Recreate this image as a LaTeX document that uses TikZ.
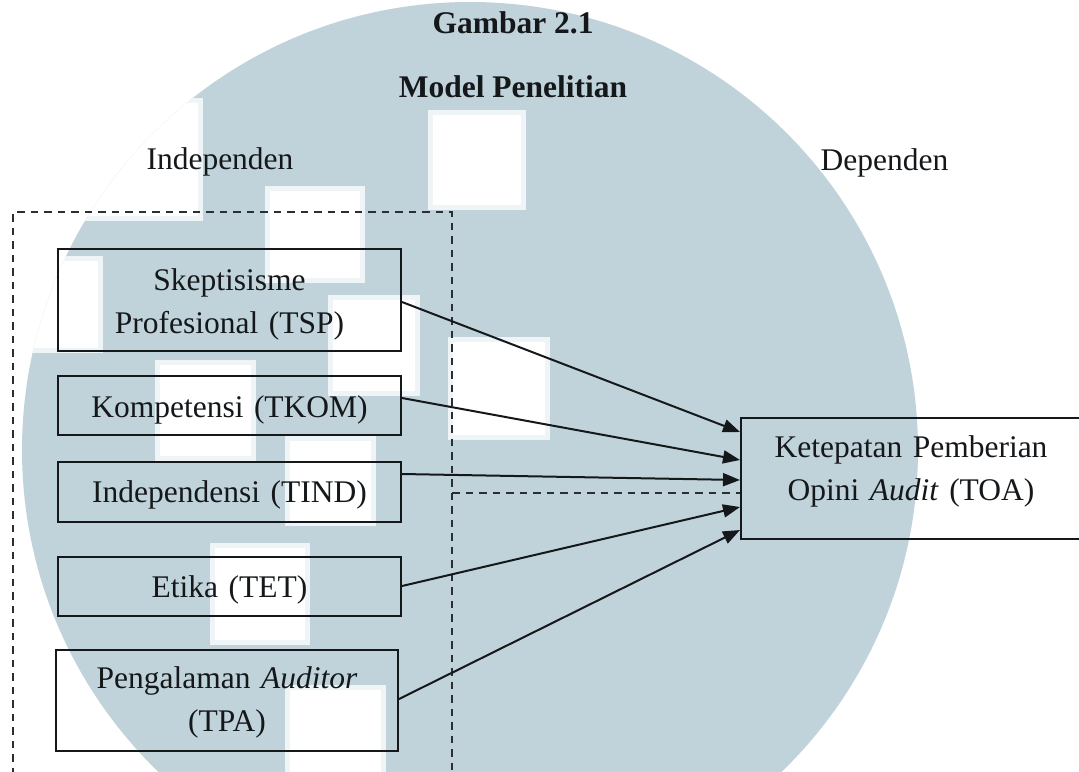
\documentclass[tikz,border=0pt]{standalone}
\usepackage{fontspec}
\setmainfont{Liberation Serif}
\usetikzlibrary{arrows.meta,calc}
\definecolor{wm}{RGB}{193,211,218}
\definecolor{ink}{RGB}{20,24,26}
\begin{document}
\begin{tikzpicture}[x=0.5pt,y=-0.5pt,
  box/.style={draw=ink, line width=1pt, inner sep=0pt, minimum width=171.5pt},
  txt/.style={inner sep=0pt, text=ink, text width=170pt, align=center,
    font=\fontsize{15.75pt}{21.5pt}\selectfont},
  ttl/.style={inner sep=0pt, text=ink, font=\fontsize{15.75pt}{21.5pt}\selectfont\bfseries},
  arr/.style={draw=ink, line width=1pt, -{Triangle[length=8.5pt,width=6.5pt]}},
  dsh/.style={draw=ink!90, line width=1pt, dash pattern=on 3.75pt off 3pt},
  cell/.style={fill=white, draw=wm!25!white, line width=2.5pt}]
\useasboundingbox (0,0) rectangle (1079,771);
\clip (0,0) rectangle (1079,771);
% watermark background
\fill[wm] (470,450) circle[radius=224pt];
\begin{scope}
\clip (470,450) circle[radius=224pt];
\path[cell] (430,112) rectangle (523,207);
\path[cell] (267,188) rectangle (362,280);
\path[cell] (330,297) rectangle (417,393);
\path[cell] (450,339) rectangle (547,437);
\path[cell] (157,362) rectangle (253,458);
\path[cell] (287,438) rectangle (373,523);
\path[cell] (212,545) rectangle (307,642);
\path[cell] (287,687) rectangle (383,790);
\path[cell] (-10,258) rectangle (100,350);
\path[cell] (60,100) rectangle (200,218);
\end{scope}
% titles
\node[ttl, anchor=base] (t1) at (513,33) {Gambar 2.1};
\node[ttl, anchor=base] (t2) at (513,97) {Model Penelitian};
\node[txt, anchor=base, text width=] (lind) at (220,169) {Independen};
\node[txt, anchor=base, text width=] (ldep) at (884.5,170) {Dependen};
% dashed frame
\coordinate (fl) at (13,775);
\coordinate (ftl) at (13,212);
\coordinate (ftr) at (452,212);
\coordinate (fr) at (452,775);
\draw[dsh] (fl) -- (ftl) -- (ftr) -- (fr);
% boxes
\node[box, minimum height=51pt] (TSP) at (229.5,300) {};
\node[box, minimum height=29.5pt] (TKOM) at (229.5,405.5) {};
\node[box, minimum height=30pt] (TIND) at (229.5,492) {};
\node[box, minimum height=29.5pt] (TET) at (229.5,586.5) {};
\node[box, minimum width=171pt, minimum height=50.5pt] (TPA) at (227,700.5) {};
\node[box, minimum width=170pt, minimum height=60.5pt] (TOA) at (911,478.5) {};
% texts
\node[txt, anchor=base] (TSPt) at ($(TSP.center)+(0,-10)$) {Skeptisisme\\Profesional (TSP)};
\node[txt, anchor=base] (TKOMt) at ($(TKOM.center)+(0,11.5)$) {Kompetensi (TKOM)};
\node[txt, anchor=base] (TINDt) at ($(TIND.center)+(0,10)$) {Independensi (TIND)};
\node[txt, anchor=base] (TETt) at ($(TET.center)+(0,10.5)$) {Etika (TET)};
\node[txt, anchor=base] (TPAt) at ($(TPA.center)+(0,-12.5)$) {Pengalaman \textit{Auditor}\\(TPA)};
\node[txt, anchor=base] (TOAt) at ($(TOA.center)+(0,-21.5)$) {Ketepatan Pemberian\\Opini \textit{Audit} (TOA)};
% connectors
\draw[arr] ($(TSP.east)+(0,2)$) -- ($(TOA.west)+(0,-46.5)$);
\draw[arr] ($(TKOM.east)+(0,-7.5)$) -- ($(TOA.west)+(0,-18.5)$);
\draw[arr] ($(TIND.east)+(0,-18)$) -- ($(TOA.west)+(0,1.5)$);
\draw[arr] ($(TET.east)+(0,-0.5)$) -- ($(TOA.west)+(0,28.5)$);
\draw[arr] ($(TPA.east)+(0,-1.5)$) -- ($(TOA.west)+(0,51.5)$);
\coordinate (split) at (452,493);
\draw[dsh] (split) -- (split -| TOA.west);
\end{tikzpicture}
\end{document}
